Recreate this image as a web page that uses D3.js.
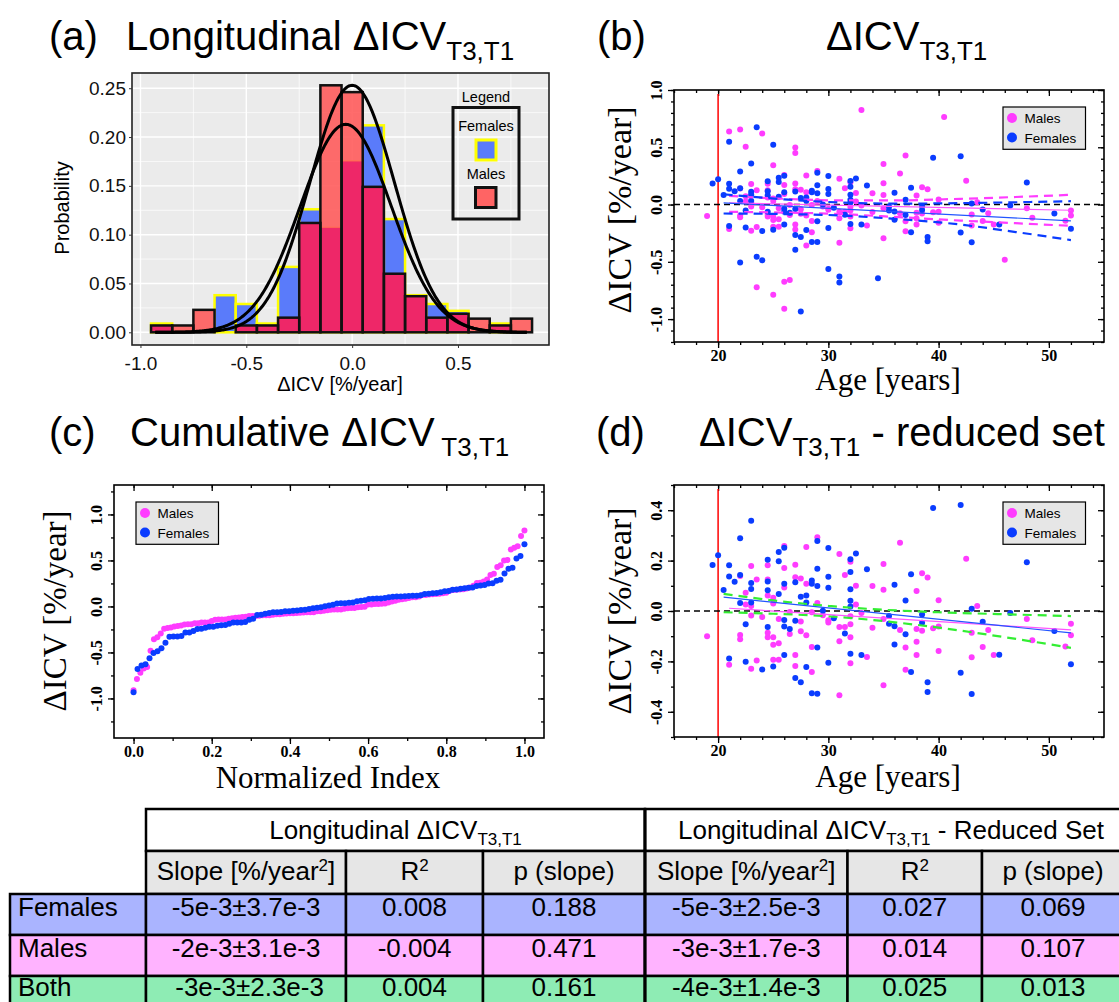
<!DOCTYPE html>
<html>
<head>
<meta charset="utf-8">
<script src="https://cdn.jsdelivr.net/npm/d3@7"></script>
<style>
body { margin: 0; background: #fff; }
svg { display: block; }
text { white-space: pre; }
</style>
</head>
<body>
<div id="fig"></div>
<script>
// ---- data ----

// (a) histogram, bin centres and probabilities
var binCenters = [-0.9, -0.8, -0.7, -0.6, -0.5, -0.4, -0.3, -0.2, -0.1, 0.0, 0.1, 0.2, 0.3, 0.4, 0.5, 0.6, 0.7, 0.8];
var femaleProb = [0.009, 0, 0, 0.038, 0.029, 0.009, 0.067, 0.126, 0.107, 0.175, 0.212, 0.116, 0.038, 0.029, 0.022, 0, 0.009, 0];
var maleProb = [0.007, 0.007, 0.023, 0, 0.007, 0.007, 0.015, 0.112, 0.253, 0.246, 0.149, 0.060, 0.037, 0.015, 0.019, 0.014, 0.007, 0.014];
// normal fits (mean, sd, peak height)
var fitMean = [0.0, -0.03];
var fitSd = [0.2, 0.215];
var fitPeak = [0.253, 0.213];

// (b)/(d) scatter: [age, dICV]
var femalesReduced = [[19.5,0.183],[20,0.221],[20.5,0.083],[21,0.182],[21,0.137],[21,-0.188],[21.5,0.116],[22,0.289],[22,0.143],[22,0.032],[22.5,-0.053],[22.5,-0.201],[23,0.358],[23,0.111],[23,0.087],[23,0.034],[24,-0.232],[24.5,0.203],[24.5,0.117],[24.5,0.082],[24.5,-0.063],[25,-0.22],[25.5,0.234],[25.5,0.197],[25.5,0.067],[26,0.251],[26,0.108],[26,-0.036],[26,-0.062],[26,-0.175],[26.5,-0.071],[27,0.114],[27,-0.039],[27,-0.266],[27.5,0.057],[27.5,-0.283],[28,0.062],[28,0.034],[28,-0.222],[28.5,0.121],[28.5,0.108],[28.5,-0.326],[29,0.278],[29,0.168],[29,0.099],[29,-0.145],[29,-0.328],[29.5,0.001],[30,0.25],[30,0.136],[30,0.092],[30,-0.205],[30.5,-0.029],[31.5,-0.089],[32,0.205],[32,0.155],[32,0.086],[32,0.041],[32,0.018],[32,-0.17],[32.5,0.228],[33,-0.175],[33.5,0.166],[35.5,-0.02],[35.5,-0.051],[36,0.104],[36,-0.061],[36,-0.133],[37,0.042],[37,-0.092],[37.5,0.146],[37.5,-0.242],[38.5,-0.014],[38.5,-0.047],[39,-0.283],[39,-0.321],[39.5,0.409],[42,0.421],[42,-0.245],[43,0.009],[43,-0.329],[44,-0.043],[45.5,-0.174],[46.5,-0.008],[48,0.193],[50.5,-0.079],[52,-0.211]];
var femalesExcluded = [[21,0.548],[22,-0.507],[23.5,0.675],[23.5,-0.455],[24,-0.487],[25,0.522],[27,-0.394],[27.5,-0.933],[30,-0.562],[31,-0.629],[31,-0.681],[34.5,-0.643]];
var malesReduced = [[19,-0.1],[21,-0.213],[22,0.139],[22,-0.095],[22,-0.112],[22.5,0.072],[22.5,0.026],[23,0.179],[23,0.02],[23,-0.018],[23,-0.229],[23.5,0.125],[23.5,-0.196],[24,-0.024],[24.5,0.182],[24.5,0.125],[24.5,0.062],[24.5,-0.086],[24.5,-0.104],[25,0.053],[25,0.03],[25,-0.104],[25,-0.134],[25,-0.193],[25.5,-0.032],[25.5,-0.128],[25.5,-0.193],[26,0.258],[26,0.171],[26,0.093],[26.5,-0.004],[26.5,-0.091],[27,0.184],[27,0.134],[27,-0.175],[27,-0.218],[27.5,0.129],[27.5,-0.042],[27.5,-0.08],[28,0.254],[28,0.108],[28,-0.096],[28.5,-0.005],[28.5,-0.143],[28.5,-0.242],[29,0.293],[29,0.032],[29.5,-0.017],[30,-0.037],[30,-0.046],[31,0.226],[31,-0.063],[31,-0.12],[31,-0.334],[31.5,0.143],[31.5,-0.063],[32,0.195],[32,-0.021],[32,-0.053],[32,-0.104],[32,-0.207],[32.5,0.1],[32.5,0.026],[33,-0.008],[33.5,-0.183],[34,0.099],[34,-0.066],[35,0.187],[35,0.084],[35,-0.032],[35,-0.295],[36.5,0.271],[36.5,-0.075],[37,-0.145],[37,-0.233],[38,0.079],[38,-0.071],[38,-0.122],[38,-0.175],[38.5,0.15],[38.5,-0.078],[39,0.133],[39.5,-0.068],[40,0.043],[40,-0.062],[40,-0.159],[42.5,0.207],[43,-0.086],[43,-0.184],[43.5,0.02],[44,-0.143],[44.5,-0.075],[45,-0.175],[48,-0.032],[48.5,-0.116],[51.5,-0.141],[52,-0.051],[52,-0.096]];
var malesExcluded = [[21,0.638],[22,0.655],[22.5,0.504],[23.5,-0.722],[24,0.62],[25,0.342],[25,-0.788],[26,-0.91],[26,-0.675],[26.5,-0.658],[27,0.499],[27,0.449],[28,-0.357],[33,0.826],[35,0.354],[37,0.429],[40.5,0.765],[46,-0.481]];

// (b) regression lines and confidence bands
var bMaleFit = [[21,0.014],[52,-0.05]];
var bMaleUp = [[21,0.075],[26,0.05],[31,0.036],[36,0.036],[42,0.05],[47,0.066],[52,0.085]];
var bMaleLo = [[21,-0.064],[26,-0.07],[31,-0.083],[36,-0.108],[42,-0.14],[47,-0.163],[52,-0.186]];
var bFemFit = [[20.5,0.014],[52,-0.142]];
var bFemUp = [[20.5,0.09],[26,0.045],[31,0.018],[36,0.008],[42,0.012],[47,0.02],[52,0.029]];
var bFemLo = [[20.5,-0.078],[26,-0.083],[31,-0.095],[36,-0.125],[42,-0.175],[47,-0.24],[52,-0.31]];
// (d) regression lines and band
var dFemFit = [[20.5,0.055],[52,-0.087]];
var dMaleFit = [[21,0.011],[52,-0.075]];
var dBothUp = [[20.5,0.068],[25,0.042],[30,0.02],[35,0.005],[40,-0.005],[46,-0.013],[52,-0.02]];
var dBothLo = [[20.5,-0.005],[25,-0.011],[30,-0.021],[35,-0.04],[40,-0.066],[46,-0.104],[52,-0.146]];

// table
var tableGroups = ['Females', 'Males', 'Both'];
var slopeFull = ['-5e-3±3.7e-3', '-2e-3±3.1e-3', '\u00a0-3e-3±2.3e-3'];
var r2Full = ['0.008', '-0.004', '0.004'];
var pFull = ['0.188', '0.471', '0.161'];
var slopeReduced = ['-5e-3±2.5e-3', '-3e-3±1.7e-3', '-4e-3±1.4e-3'];
var r2Reduced = ['0.027', '0.014', '0.025'];
var pReduced = ['0.069', '0.107', '0.013'];

// ---- drawing ----
var SANS = '"Liberation Sans", Arial, sans-serif';
var SERIF = '"Liberation Serif", "Times New Roman", serif';
var MAG = '#ff3cff', BLUE = '#0a3cff';

var svg = d3.select('#fig').append('svg').attr('width', 1119).attr('height', 1002);
svg.append('rect').attr('width', 1119).attr('height', 1002).attr('fill', '#fff');

// plain hyphen instead of the unicode minus
function hy(f) { return function(v) { return f(v).replace('\u2212', '-'); }; }

function addText(x, y, segs, size, anchor) {
	var subSize = Math.round(size * 0.65);
	var t = svg.append('text').attr('x', x).attr('y', y)
		.attr('font-family', SANS).attr('font-size', size)
		.attr('text-anchor', anchor || 'start');
	var shift = 0;
	segs.forEach(function(s) {
		var ts = t.append('tspan').text(s.t);
		var want = s.sub ? size * 0.25 : (s.sup ? -size * 0.35 : 0);
		if (want !== shift) { ts.attr('dy', want - shift); shift = want; }
		if (s.sub || s.sup) ts.attr('font-size', subSize);
	});
	return t;
}

// titles
addText(49, 50, [{t:'(a)'}], 40);
addText(126, 50, [{t:'Longitudinal ΔICV'}, {t:'T3,T1', sub:1}], 40);
addText(597, 50, [{t:'(b)'}], 40);
addText(826, 50, [{t:'ΔICV'}, {t:'T3,T1', sub:1}], 40);
addText(49, 446, [{t:'(c)'}], 40);
addText(130, 446, [{t:'Cumulative ΔICV'}, {t:' T3,T1', sub:1}], 40);
addText(596, 446, [{t:'(d)'}], 40);
addText(699, 446, [{t:'ΔICV'}, {t:'T3,T1', sub:1}, {t:' - reduced set'}], 40);

// ---- (a) histogram ----
(function() {
	var L = 132, R = 549, T = 73, B = 345;
	var x = d3.scaleLinear().domain([-1.04, 0.93]).range([L, R]);
	var y = d3.scaleLinear().domain([-0.013, 0.2656]).range([B, T]);
	var g = svg.append('g');
	g.append('rect').attr('x', L).attr('y', T).attr('width', R - L).attr('height', B - T).attr('fill', '#ebebeb');
	var xMinor = [-0.75, -0.25, 0.25, 0.75], xMajor = [-1, -0.5, 0, 0.5];
	var yMinor = [0.025, 0.075, 0.125, 0.175, 0.225], yMajor = [0, 0.05, 0.1, 0.15, 0.2, 0.25];
	g.selectAll(null).data(xMinor).join('line').attr('x1', x).attr('x2', x).attr('y1', T).attr('y2', B).attr('stroke', '#fff').attr('stroke-width', 0.7);
	g.selectAll(null).data(yMinor).join('line').attr('y1', y).attr('y2', y).attr('x1', L).attr('x2', R).attr('stroke', '#fff').attr('stroke-width', 0.7);
	g.selectAll(null).data(xMajor).join('line').attr('x1', x).attr('x2', x).attr('y1', T).attr('y2', B).attr('stroke', '#fff').attr('stroke-width', 1.4);
	g.selectAll(null).data(yMajor).join('line').attr('y1', y).attr('y2', y).attr('x1', L).attr('x2', R).attr('stroke', '#fff').attr('stroke-width', 1.4);

	var bins = binCenters.map(function(c, i) { return {x0: c - 0.05, x1: c + 0.05, f: femaleProb[i], m: maleProb[i]}; });
	// females
	g.selectAll(null).data(bins.filter(function(d) { return d.f > 0; })).join('rect')
		.attr('x', function(d) { return x(d.x0); }).attr('width', function(d) { return x(d.x1) - x(d.x0); })
		.attr('y', function(d) { return y(d.f); }).attr('height', function(d) { return y(0) - y(d.f); })
		.attr('fill', '#5a7bfa').attr('stroke', '#ffff00').attr('stroke-width', 2.5);
	// males
	var mb = bins.filter(function(d) { return d.m > 0; });
	g.selectAll(null).data(mb).join('rect')
		.attr('x', function(d) { return x(d.x0); }).attr('width', function(d) { return x(d.x1) - x(d.x0); })
		.attr('y', function(d) { return y(d.m); }).attr('height', function(d) { return y(0) - y(d.m); })
		.attr('fill', '#ff5c5c').attr('fill-opacity', 0.9);
	g.selectAll(null).data(mb.filter(function(d) { return d.f > 0; })).join('rect')
		.attr('x', function(d) { return x(d.x0); }).attr('width', function(d) { return x(d.x1) - x(d.x0); })
		.attr('y', function(d) { return y(Math.min(d.m, d.f)); }).attr('height', function(d) { return y(0) - y(Math.min(d.m, d.f)); })
		.attr('fill', '#ee2368').attr('fill-opacity', 0.92);
	g.selectAll(null).data(mb).join('rect')
		.attr('x', function(d) { return x(d.x0); }).attr('width', function(d) { return x(d.x1) - x(d.x0); })
		.attr('y', function(d) { return y(d.m); }).attr('height', function(d) { return y(0) - y(d.m); })
		.attr('fill', 'none').attr('stroke', '#111').attr('stroke-width', 2.5);

	// normal fits
	var xs = d3.range(-0.93, 0.826, 0.005);
	var line = d3.line().x(function(d) { return x(d[0]); }).y(function(d) { return y(d[1]); });
	fitMean.forEach(function(m, k) {
		var pts = xs.map(function(v) { return [v, fitPeak[k] * Math.exp(-0.5 * Math.pow((v - m) / fitSd[k], 2))]; });
		g.append('path').attr('d', line(pts)).attr('fill', 'none').attr('stroke', '#000').attr('stroke-width', 3);
	});

	g.append('rect').attr('x', L).attr('y', T).attr('width', R - L).attr('height', B - T)
		.attr('fill', 'none').attr('stroke', '#222').attr('stroke-width', 1.6);

	// axes
	var ax = g.append('g').attr('transform', 'translate(0,' + B + ')')
		.call(d3.axisBottom(x).tickValues(xMajor).tickSize(3).tickPadding(4).tickFormat(hy(d3.format('.1f'))));
	ax.select('.domain').remove();
	ax.selectAll('line').attr('stroke', '#333');
	ax.selectAll('text').attr('font-family', SANS).attr('font-size', 19).attr('fill', '#111').attr('dy', '0.95em');
	var ay = g.append('g').attr('transform', 'translate(' + L + ',0)')
		.call(d3.axisLeft(y).tickValues(yMajor).tickSize(3).tickPadding(3).tickFormat(d3.format('.2f')));
	ay.select('.domain').remove();
	ay.selectAll('line').attr('stroke', '#333');
	ay.selectAll('text').attr('font-family', SANS).attr('font-size', 19).attr('fill', '#111');

	svg.append('text').attr('x', 340).attr('y', 391).attr('text-anchor', 'middle')
		.attr('font-family', SANS).attr('font-size', 20).text('ΔICV [%/year]');
	svg.append('text').attr('transform', 'translate(69,208) rotate(-90)').attr('text-anchor', 'middle')
		.attr('font-family', SANS).attr('font-size', 20).text('Probability');

	// legend
	svg.append('text').attr('x', 486).attr('y', 102).attr('text-anchor', 'middle')
		.attr('font-family', SANS).attr('font-size', 14.5).text('Legend');
	svg.append('rect').attr('x', 453).attr('y', 107.5).attr('width', 66).attr('height', 111.5)
		.attr('fill', 'none').attr('stroke', '#111').attr('stroke-width', 3);
	svg.append('text').attr('x', 486).attr('y', 131).attr('text-anchor', 'middle')
		.attr('font-family', SANS).attr('font-size', 14.5).text('Females');
	svg.append('rect').attr('x', 476).attr('y', 140).attr('width', 20).attr('height', 20)
		.attr('fill', '#5a7bfa').attr('stroke', '#ffff00').attr('stroke-width', 3);
	svg.append('text').attr('x', 486).attr('y', 179).attr('text-anchor', 'middle')
		.attr('font-family', SANS).attr('font-size', 14.5).text('Males');
	svg.append('rect').attr('x', 475.5).attr('y', 187.5).attr('width', 20.5).attr('height', 20)
		.attr('fill', '#ff6464').attr('stroke', '#111').attr('stroke-width', 3);
})();

// ---- grace style panels ----
function stepTicks(dom, step) {
	var lo = Math.ceil(dom[0] / step - 1e-9), hi = Math.floor(dom[1] / step + 1e-9);
	return d3.range(lo, hi + 1).map(function(k) { return +(k * step).toFixed(6); });
}

function panel(box, xDom, yDom, xStep, xMinStep, yStep, yMinStep, xFmt, yFmt) {
	var x = d3.scaleLinear().domain(xDom).range([box.l, box.r]);
	var y = d3.scaleLinear().domain(yDom).range([box.b, box.t]);
	var g = svg.append('g');
	var xMaj = stepTicks(xDom, xStep), xMin = stepTicks(xDom, xMinStep);
	var yMaj = stepTicks(yDom, yStep), yMin = stepTicks(yDom, yMinStep);

	function styleAxis(sel) {
		sel.select('.domain').remove();
		sel.selectAll('line').attr('stroke', '#000').attr('stroke-width', 1.3);
	}
	// minor ticks
	g.append('g').attr('transform', 'translate(0,' + box.b + ')').call(d3.axisBottom(x).tickValues(xMin).tickSize(3).tickFormat('')).call(styleAxis);
	g.append('g').attr('transform', 'translate(0,' + box.t + ')').call(d3.axisTop(x).tickValues(xMin).tickSize(-3).tickFormat('')).call(styleAxis);
	g.append('g').attr('transform', 'translate(' + box.l + ',0)').call(d3.axisLeft(y).tickValues(yMin).tickSize(3).tickFormat('')).call(styleAxis);
	g.append('g').attr('transform', 'translate(' + box.r + ',0)').call(d3.axisRight(y).tickValues(yMin).tickSize(-3).tickFormat('')).call(styleAxis);
	// major ticks
	var bx = g.append('g').attr('transform', 'translate(0,' + box.b + ')')
		.call(d3.axisBottom(x).tickValues(xMaj).tickSize(6).tickPadding(1).tickFormat(xFmt)).call(styleAxis);
	bx.selectAll('text').attr('font-family', SERIF).attr('font-weight', 'bold').attr('font-size', 16).attr('fill', '#000').attr('dy', '0.75em');
	g.append('g').attr('transform', 'translate(0,' + box.t + ')').call(d3.axisTop(x).tickValues(xMaj).tickSize(-6).tickFormat('')).call(styleAxis);
	var ly = g.append('g').attr('transform', 'translate(' + box.l + ',0)')
		.call(d3.axisLeft(y).tickValues(yMaj).tickSize(6).tickFormat(yFmt)).call(styleAxis);
	ly.selectAll('text').attr('x', null).attr('dy', null).attr('text-anchor', 'middle')
		.attr('transform', 'translate(-12,0) rotate(-90)')
		.attr('font-family', SERIF).attr('font-weight', 'bold').attr('font-size', 16).attr('fill', '#000');
	g.append('g').attr('transform', 'translate(' + box.r + ',0)').call(d3.axisRight(y).tickValues(yMaj).tickSize(-6).tickFormat('')).call(styleAxis);

	var plot = svg.append('g');
	var frame = svg.append('g');
	frame.append('rect').attr('x', box.l).attr('y', box.t).attr('width', box.r - box.l).attr('height', box.b - box.t)
		.attr('fill', 'none').attr('stroke', '#000').attr('stroke-width', 1.6);
	return {x: x, y: y, g: plot, frame: frame};
}

function dots(p, data, color) {
	p.g.append('g').selectAll('circle').data(data).join('circle')
		.attr('cx', function(d) { return p.x(d[0]); }).attr('cy', function(d) { return p.y(d[1]); })
		.attr('r', 3).attr('fill', color);
}

function drawLine(p, pts, color, width, dash) {
	var ln = d3.line().x(function(d) { return p.x(d[0]); }).y(function(d) { return p.y(d[1]); }).curve(d3.curveMonotoneX);
	p.g.append('path').attr('d', ln(pts)).attr('fill', 'none').attr('stroke', color)
		.attr('stroke-width', width).attr('stroke-dasharray', dash || null);
}

function refLines(p, box) {
	p.g.append('line').attr('x1', p.x(20)).attr('x2', p.x(20)).attr('y1', box.t + 4).attr('y2', box.b)
		.attr('stroke', '#ff0000').attr('stroke-width', 1.5);
	p.g.append('line').attr('x1', box.l).attr('x2', box.r).attr('y1', p.y(0)).attr('y2', p.y(0))
		.attr('stroke', '#000').attr('stroke-width', 1.4).attr('stroke-dasharray', '6,4');
}

function legend(p, bx, by) {
	var lg = p.frame.append('g').attr('transform', 'translate(' + bx + ',' + by + ')');
	lg.append('rect').attr('width', 82.5).attr('height', 42.3).attr('fill', '#e6e6e6').attr('stroke', '#000').attr('stroke-width', 1.2);
	[['Males', MAG], ['Females', BLUE]].forEach(function(e, i) {
		lg.append('circle').attr('cx', 9).attr('cy', 11 + i * 19.5).attr('r', 5).attr('fill', e[1]);
		lg.append('text').attr('x', 21.5).attr('y', 15.5 + i * 20).attr('font-family', SANS).attr('font-size', 13.5).text(e[0]);
	});
}

function axisTitles(xt, xx, xy, yt, yx, yy, ysize) {
	svg.append('text').attr('x', xx).attr('y', xy).attr('text-anchor', 'middle')
		.attr('font-family', SERIF).attr('font-size', 31).text(xt);
	svg.append('text').attr('transform', 'translate(' + yx + ',' + yy + ') rotate(-90)').attr('text-anchor', 'middle')
		.attr('font-family', SERIF).attr('font-size', ysize).text(yt);
}

var fmt1 = hy(d3.format('.1f')), fmt0 = d3.format('d');

// ---- (b) ----
var boxB = {l: 674, r: 1104, t: 90, b: 342};
var pb = panel(boxB, [16, 55], [-1.2, 1.0], 10, 2, 0.5, 0.1, fmt0, fmt1);
refLines(pb, boxB);
dots(pb, malesReduced.concat(malesExcluded), MAG);
dots(pb, femalesReduced.concat(femalesExcluded), BLUE);
drawLine(pb, bMaleUp, MAG, 2.2, '9,6');
drawLine(pb, bMaleLo, MAG, 2.2, '9,6');
drawLine(pb, bFemUp, BLUE, 2.2, '9,6');
drawLine(pb, bFemLo, BLUE, 2.2, '9,6');
drawLine(pb, bMaleFit, '#ff55ff', 1.2);
drawLine(pb, bFemFit, '#2255ff', 1.2);
legend(pb, 1003, 107);
axisTitles('Age [years]', 888, 390, 'ΔICV [%/year]', 631, 210, 34);

// ---- (c) cumulative ----
function cumulative(vals) {
	var s = vals.map(function(d) { return d[1]; }).sort(d3.ascending);
	return s.map(function(v, i) { return [i / (s.length - 1), v]; });
}
var boxC = {l: 114, r: 544, t: 485, b: 738};
var pc = panel(boxC, [-0.05, 1.05], [-1.43, 1.32], 0.2, 0.1, 0.5, 0.25, fmt1, fmt1);
dots(pc, cumulative(malesReduced.concat(malesExcluded)), MAG);
dots(pc, cumulative(femalesReduced.concat(femalesExcluded)), BLUE);
legend(pc, 136, 502);
axisTitles('Normalized Index', 328, 788, 'ΔICV [%/year]', 66, 611, 33);

// ---- (d) reduced ----
var boxD = {l: 674, r: 1104, t: 485, b: 737};
var pd = panel(boxD, [16, 55], [-0.5, 0.5], 10, 2, 0.2, 0.1, fmt0, fmt1);
refLines(pd, boxD);
dots(pd, malesReduced, MAG);
dots(pd, femalesReduced, BLUE);
drawLine(pd, dBothUp, '#33ee33', 2.2, '9,6');
drawLine(pd, dBothLo, '#33ee33', 2.2, '9,6');
drawLine(pd, dMaleFit, '#ff55ff', 1.2);
drawLine(pd, dFemFit, '#2255ff', 1.2);
legend(pd, 1003, 502);
axisTitles('Age [years]', 888, 787, 'ΔICV [%/year]', 631, 611, 34);

// ---- table ----
(function() {
	var colX = [146, 346, 483, 645, 847.5, 982, 1124];
	var rowY = [809, 851, 894, 935, 976, 1018];
	var rowFill = ['#aab4ff', '#ffb3ff', '#8eecb4'];
	var tg = svg.append('g');
	function cell(x0, y0, x1, y1, fill) {
		tg.append('rect').attr('x', x0).attr('y', y0).attr('width', x1 - x0).attr('height', y1 - y0)
			.attr('fill', fill).attr('stroke', '#000').attr('stroke-width', 2.5);
	}
	cell(colX[0], rowY[0], colX[3], rowY[1], '#fff');
	cell(colX[3], rowY[0], colX[6], rowY[1], '#fff');
	for (var c = 0; c < 6; c++) cell(colX[c], rowY[1], colX[c + 1], rowY[2], '#e6e6e6');
	var cols = [slopeFull, r2Full, pFull, slopeReduced, r2Reduced, pReduced];
	tableGroups.forEach(function(name, r) {
		cell(10, rowY[r + 2], colX[0], rowY[r + 3], rowFill[r]);
		for (var c = 0; c < 6; c++) cell(colX[c], rowY[r + 2], colX[c + 1], rowY[r + 3], rowFill[r]);
	});
	tg.append('line').attr('x1', colX[3]).attr('x2', colX[3]).attr('y1', rowY[0]).attr('y2', 1002)
		.attr('stroke', '#000').attr('stroke-width', 3);

	addText((colX[0] + colX[3]) / 2, 838.5, [{t:'Longitudinal ΔICV'}, {t:'T3,T1', sub:1}], 26, 'middle');
	addText(891, 838.5, [{t:'Longitudinal ΔICV'}, {t:'T3,T1', sub:1}, {t:' - Reduced Set'}], 26, 'middle');
	[0, 3].forEach(function(o) {
		addText((colX[o] + colX[o + 1]) / 2, 880, [{t:'Slope [%/year'}, {t:'2', sup:1}, {t:']'}], 26, 'middle');
		addText((colX[o + 1] + colX[o + 2]) / 2, 880, [{t:'R'}, {t:'2', sup:1}], 26, 'middle');
		addText((colX[o + 2] + colX[o + 3]) / 2, 880, [{t:'p (slope)'}], 26, 'middle');
	});
	var base = [916, 957, 996];
	tableGroups.forEach(function(name, r) {
		addText(18, base[r], [{t:name}], 26, 'start');
		cols.forEach(function(col, c) {
			addText((colX[c] + colX[c + 1]) / 2, base[r], [{t:col[r]}], 26, 'middle');
		});
	});
})();
</script>
</body>
</html>
